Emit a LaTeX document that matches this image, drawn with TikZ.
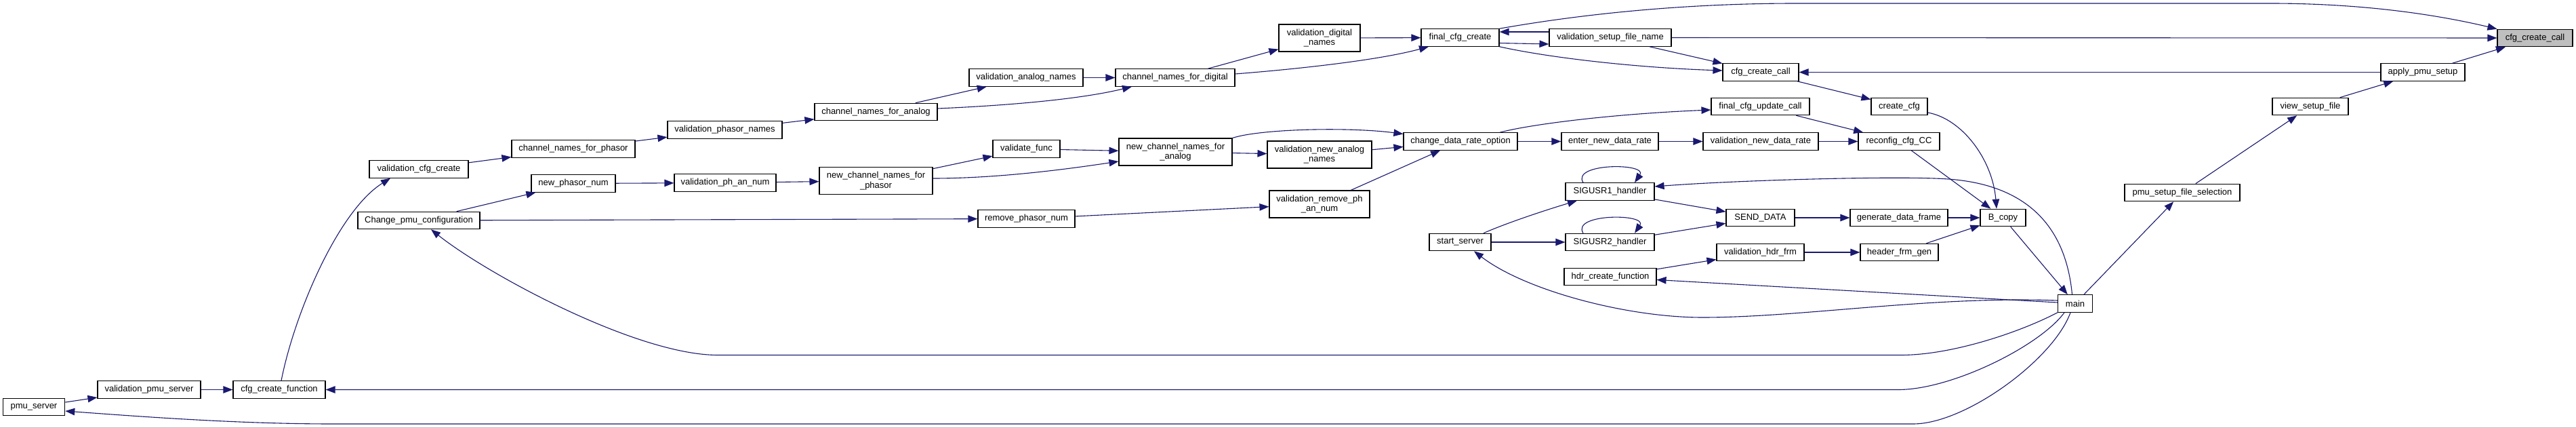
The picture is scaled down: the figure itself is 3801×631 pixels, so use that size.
\documentclass[tikz,border=0pt]{standalone}
\usepackage{fontspec}
\newfontfamily\dox{Liberation Sans}
\usetikzlibrary{arrows.meta}
\definecolor{edgecol}{HTML}{191970}
\definecolor{focusgrey}{HTML}{BFBFBF}
\tikzset{
  fn/.style={draw=black, line width=1.1pt, fill=white, inner sep=0pt,
    minimum height=25.5pt, align=center,
    font={\dox\fontsize{13}{14.7}\selectfont}},
  fn2/.style={fn, minimum height=40pt},
  edge/.style={draw=edgecol, line width=1.1pt,
    -{Triangle[length=14pt,width=10.5pt]}},
}
\begin{document}
\begin{tikzpicture}[x=1pt,y=-1pt]
\useasboundingbox (0,0) rectangle (3801,631);
\fill[white] (0,0) rectangle (3801,631);
\draw[black!25, line width=1pt] (0,630.5) -- (3801,630.5);

% ---------- nodes ----------
\node[fn, minimum width=91.5pt] (pmu) at (50,600) {pmu\_server};
\node[fn, minimum width=152pt] (vps) at (220,574.5) {validation\_pmu\_server};
\node[fn, minimum width=136pt] (ccf) at (412,574.5) {cfg\_create\_function};
\node[fn, minimum width=146pt] (vcc) at (618,249.5) {validation\_cfg\_create};
\node[fn, minimum width=180pt] (cpc) at (618,325) {Change\_pmu\_configuration};
\node[fn, minimum width=182pt] (cnp) at (846,219.5) {channel\_names\_for\_phasor};
\node[fn, minimum width=124pt] (npn) at (846,270.5) {new\_phasor\_num};
\node[fn, minimum width=169pt] (vpn) at (1069.5,191.5) {validation\_phasor\_names};
\node[fn, minimum width=150pt] (vpa) at (1070,269.5) {validation\_ph\_an\_num};
\node[fn, minimum width=181pt] (cna) at (1292.5,165) {channel\_names\_for\_analog};
\node[fn2, minimum width=167pt] (ncnp) at (1292.5,266.5) {new\_channel\_names\_for\\\_phasor};
\node[fn, minimum width=168pt] (van) at (1514,114.5) {validation\_analog\_names};
\node[fn, minimum width=99pt] (vf) at (1514.5,219.5) {validate\_func};
\node[fn, minimum width=143pt] (rpn) at (1514.5,322.5) {remove\_phasor\_num};
\node[fn, minimum width=176pt] (cnd) at (1734,114.5) {channel\_names\_for\_digital};
\node[fn2, minimum width=167pt] (ncna) at (1734.5,224) {new\_channel\_names\_for\\\_analog};
\node[fn2, minimum width=120pt] (vdn) at (1947,56) {validation\_digital\\\_names};
\node[fn2, minimum width=154pt] (vnan) at (1947,228) {validation\_new\_analog\\\_names};
\node[fn2, minimum width=148pt] (vrpan) at (1947,301) {validation\_remove\_ph\\\_an\_num};
\node[fn, minimum width=115pt] (fcc) at (2154.5,55.5) {final\_cfg\_create};
\node[fn, minimum width=168pt] (cdro) at (2155,208.5) {change\_data\_rate\_option};
\node[fn, minimum width=91pt] (ss) at (2154.5,357) {start\_server};
\node[fn, minimum width=180pt] (vsfn) at (2376,55.5) {validation\_setup\_file\_name};
\node[fn, minimum width=143pt] (endr) at (2375.5,208.5) {enter\_new\_data\_rate};
\node[fn, minimum width=131pt] (s1) at (2375.5,282.5) {SIGUSR1\_handler};
\node[fn, minimum width=131pt] (s2) at (2375.5,357) {SIGUSR2\_handler};
\node[fn, minimum width=136pt] (hcf) at (2376,408) {hdr\_create\_function};
\node[fn, minimum width=112pt] (wcc) at (2598,106.5) {cfg\_create\_call};
\node[fn, minimum width=145pt] (fcuc) at (2597.5,157) {final\_cfg\_update\_call};
\node[fn, minimum width=170pt] (vndr) at (2598,208.5) {validation\_new\_data\_rate};
\node[fn, minimum width=101pt] (sd) at (2597.5,321) {SEND\_DATA};
\node[fn, minimum width=129pt] (vhf) at (2597.5,372) {validation\_hdr\_frm};
\node[fn, minimum width=83pt] (ccfg) at (2802.5,157) {create\_cfg};
\node[fn, minimum width=120pt] (rcc) at (2802,208.5) {reconfig\_cfg\_CC};
\node[fn, minimum width=144pt] (gdf) at (2802,321) {generate\_data\_frame};
\node[fn, minimum width=115pt] (hfg) at (2802.5,372) {header\_frm\_gen};
\node[fn, minimum width=67pt] (bc) at (2955.5,321) {B\_copy};
\node[fn, minimum width=51pt] (main) at (3062,447.5) {main};
\node[fn, minimum width=170pt] (psfs) at (3220,284) {pmu\_setup\_file\_selection};
\node[fn, minimum width=112pt] (vsf) at (3409,157) {view\_setup\_file};
\node[fn, minimum width=124pt] (aps) at (3575,106.5) {apply\_pmu\_setup};
\node[fn, minimum width=111pt, fill=focusgrey] (gcc) at (3740.5,56) {cfg\_create\_call};

% ---------- edges ----------
\draw[edge] (pmu) -- (vps);
\draw[edge] (vps) -- (ccf);
\draw[edge] ([xshift=3pt]ccf.north) .. controls (435,460) and (500,310) .. ([xshift=-42pt]vcc.south);
\draw[edge] (vcc) -- (cnp);
\draw[edge] (cnp) -- (vpn);
\draw[edge] (vpn) -- (cna);
\draw[edge] (cpc) -- (npn);
\draw[edge] (npn) -- (vpa);
\draw[edge] (vpa) -- (ncnp);
\draw[edge] (cpc) -- (rpn);
\draw[edge] (cna) -- (van);
\draw[edge] ([yshift=5pt]cna.east) .. controls (1500,155) and (1600,145) .. ([xshift=-64pt]cnd.south);
\draw[edge] (van) -- (cnd);
\draw[edge] (cnd) -- (vdn);
\draw[edge] ([yshift=5.5pt]cnd.east) .. controls (1900,103) and (2030,90) .. ([xshift=-46.5pt]fcc.south);
\draw[edge] (vdn) -- (fcc);
\draw[edge] (ncnp) -- (vf);
\draw[edge] ([yshift=3.5pt]ncnp.east) .. controls (1480,263) and (1590,247) .. ([yshift=-14pt]ncna.west);
\draw[edge] (vf) -- (ncna);
\draw[edge] (ncna) -- (vnan);
\draw[edge] (rpn) -- (vrpan);
\draw[edge] (ncna.north east) .. controls (1860,190) and (1990,187) .. ([yshift=11pt]cdro.west);
\draw[edge] (vnan) -- (cdro);
\draw[edge] (vrpan) -- (cdro);
\draw[edge] ([xshift=58pt]cdro.north) .. controls (2260,183) and (2380,168) .. ([yshift=-5pt]fcuc.west);
\draw[edge] (cdro) -- (endr);
\draw[edge] (endr) -- (vndr);
\draw[edge] ([xshift=34.5pt]ss.north) .. controls (2225,328) and (2280,310) .. ([xshift=-48.5pt]s1.south);
\draw[edge] (ss) -- (s2);
\draw[edge] ([xshift=-39.5pt]s1.north) .. controls (2318,240) and (2432,240) .. ([xshift=36.5pt]s1.north);
\draw[edge] ([xshift=-39.5pt]s2.north) .. controls (2318,314.5) and (2432,314.5) .. ([xshift=36.5pt]s2.north);
\draw[edge] (s1) -- (sd);
\draw[edge] (s2) -- (sd);
\draw[edge] (hcf) -- (vhf);
\draw[edge] ([yshift=8.5pt]vsfn.west) -- ([yshift=8.5pt]fcc.east);
\draw[edge] ([yshift=-8pt]fcc.east) -- ([yshift=-9.5pt]vsfn.west);
\draw[edge] (vsfn) -- (wcc);
\draw[edge] (fcc.south east) .. controls (2290,86) and (2420,100) .. ([yshift=2.5pt]wcc.west);
\draw[edge] (vsfn) -- (gcc);
\draw[edge] (fcc.north east) .. controls (2350,18) and (2500,5) .. (2650,5) -- (3350,5)
  .. controls (3500,5) and (3610,25) .. (gcc.north west);
\draw[edge] (aps) -- (wcc);
\draw[edge] (wcc) -- (ccfg);
\draw[edge] (fcuc) -- (rcc);
\draw[edge] (vndr) -- (rcc);
\draw[edge] ([yshift=-9pt]ccfg.east) .. controls (2895,175) and (2940,235) .. ([xshift=-9.5pt]bc.north);
\draw[edge] (rcc) -- (bc);
\draw[edge] (sd) -- (gdf);
\draw[edge] (gdf) -- (bc);
\draw[edge] (vhf) -- (hfg);
\draw[edge] (hfg) -- (bc);
\draw[edge] (bc) -- (main);
\draw[edge] (main) -- (psfs);
\draw[edge] (psfs) -- (vsf);
\draw[edge] (vsf) -- (aps);
\draw[edge] (aps) -- (gcc);
% main to the left side
\draw[edge] ([xshift=-4.5pt]main.north) .. controls (3045,300) and (2950,268) .. (2868,263.6)
  .. controls (2786,259.2) and (2560,266) .. ([yshift=7.5pt]s1.east);
\draw[edge] ([yshift=1.5pt]main.west) -- ([yshift=-4.5pt]hcf.east);
\draw[edge] ([yshift=4.5pt]main.west) .. controls (2850,436) and (2660,468) .. (2512,468)
  .. controls (2400,468) and (2250,428) .. ([xshift=20.5pt]ss.south);
\draw[edge] (main.south west) .. controls (2980,490) and (2880,523.5) .. (2805,523.5) -- (1059,523.5)
  .. controls (940,523.5) and (720,405) .. ([xshift=18pt]cpc.south);
\draw[edge] ([xshift=-16pt]main.south) .. controls (3010,510) and (2880,574.5) .. (2801,574.5) -- (ccf.east);
\draw[edge] ([xshift=-7pt]main.south) .. controls (3030,530) and (2900,625) .. (2823,625) -- (491,625)
  .. controls (350,625) and (206,614) .. ([yshift=-6pt]pmu.east);
\end{tikzpicture}
\end{document}
